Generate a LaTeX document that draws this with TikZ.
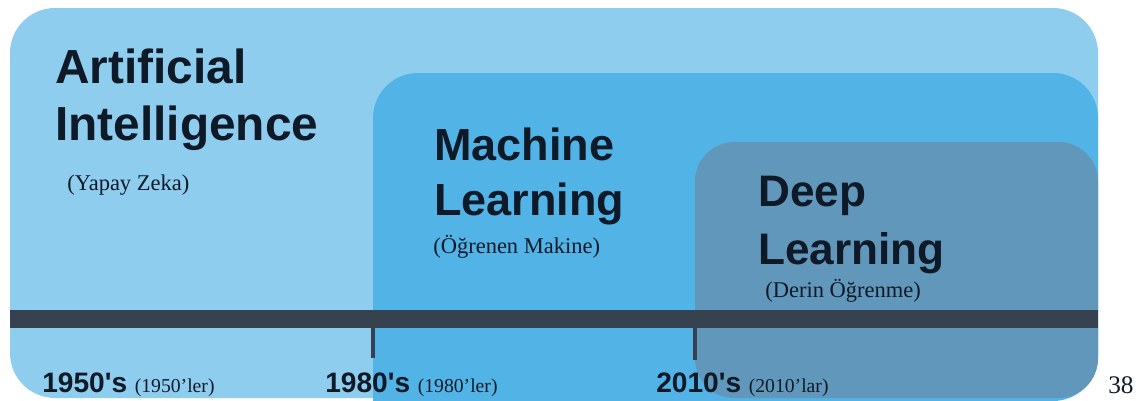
\documentclass[tikz,border=0pt]{standalone}
\usepackage{fontspec}
\usetikzlibrary{positioning}
\setmainfont{Liberation Serif}
\newfontfamily\headfont{Liberation Sans}

\definecolor{aiblue}{HTML}{8FCDEE}
\definecolor{mlblue}{HTML}{52B3E6}
\definecolor{dlblue}{HTML}{6197BA}
\definecolor{barcol}{HTML}{36424F}
\definecolor{inkcol}{HTML}{0E1A28}

\begin{document}
\begin{tikzpicture}[
    x=0.025cm, y=-0.025cm,
    title/.style={
        anchor=base west,
        inner sep=0pt,
        align=left,
        text=inkcol,
        font=\headfont\bfseries
    },
    sub/.style={
        anchor=base west,
        inner sep=0pt,
        text=inkcol,
        font=\fontsize{16}{18}\selectfont
    },
    year/.style={
        anchor=base west,
        inner sep=0pt,
        text=inkcol,
        font=\headfont\bfseries\fontsize{20}{22}\selectfont
    },
    tick/.style={
        draw=barcol,
        line width=2.2pt
    }
]
\useasboundingbox (0,0) rectangle (1138,401);

% Boxes
\fill[aiblue, rounded corners=32pt] (10,398) -- (10,8) -- (1098,8) -- (1098,398) -- cycle;
\fill[mlblue, rounded corners=32pt] (373,401) -- (373,73) -- (1098,73) -- (1098,401) [sharp corners] -- cycle;
\fill[dlblue, rounded corners=28pt] (695,398) -- (695,142) -- (1098,142) -- (1098,398) -- cycle;

% Timeline
\fill[barcol] (10,310) rectangle (1098,328);
\coordinate (t80a) at (373,328);
\coordinate (t80b) at (373,358);
\coordinate (t10a) at (695,328);
\coordinate (t10b) at (695,360);
\draw[tick] (t80a) -- (t80b);
\draw[tick] (t10a) -- (t10b);

% Titles (base = last line)
\node[title, font=\headfont\bfseries\fontsize{34}{40.5}\selectfont] (ai) at (55,140) {Artificial\\Intelligence};
\node[sub] (aisub) at (67,190) {(Yapay Zeka)};

\node[title, font=\headfont\bfseries\fontsize{32}{39}\selectfont] (ml) at (434,215) {Machine\\Learning};
\node[sub] (mlsub) at (433,253) {(Öğrenen Makine)};

\node[title, font=\headfont\bfseries\fontsize{31.4}{41}\selectfont] (dl) at (758,264) {Deep\\Learning};
\node[sub] (dlsub) at (765,297) {(Derin Öğrenme)};

% Years
\node[year] (y50) at (42,392) {1950's};
\node[sub, font=\fontsize{14}{16}\selectfont, right=5pt of y50.base east, anchor=base west] (y50sub) {(1950'ler)};
\node[year] (y80) at (325,392) {1980's};
\node[sub, font=\fontsize{14}{16}\selectfont, right=5pt of y80.base east, anchor=base west] (y80sub) {(1980'ler)};
\node[year] (y10) at (656,392) {2010's};
\node[sub, font=\fontsize{14}{16}\selectfont, right=5pt of y10.base east, anchor=base west] (y10sub) {(2010'lar)};

% Page number
\node[sub, font=\fontsize{18}{20}\selectfont] (pg) at (1108,393) {38};

\end{tikzpicture}
\end{document}
